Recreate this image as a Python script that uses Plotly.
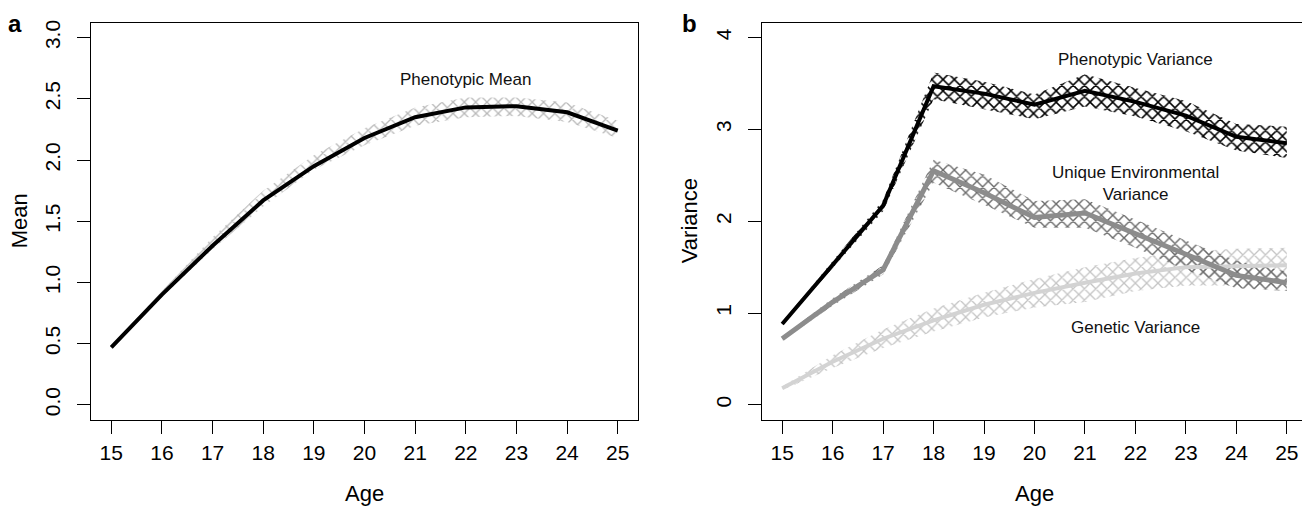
"""Phenotypic mean and variance components by age (two panels)."""
import plotly.graph_objects as go

ages = list(range(15, 26))

# panel a: phenotypic mean with interval
mean_est = [0.47, 0.90, 1.30, 1.67, 1.95, 2.18, 2.35, 2.43, 2.44, 2.39, 2.24]
mean_lo = [0.46, 0.88, 1.27, 1.62, 1.92, 2.12, 2.28, 2.35, 2.36, 2.31, 2.18]
mean_hi = [0.48, 0.93, 1.37, 1.75, 2.04, 2.26, 2.43, 2.51, 2.51, 2.47, 2.32]

# panel b: variance components with intervals
phen_var = [0.88, 1.53, 2.17, 3.47, 3.39, 3.27, 3.42, 3.30, 3.15, 2.92, 2.85]
phen_lo = [0.87, 1.49, 2.11, 3.33, 3.22, 3.11, 3.25, 3.14, 2.98, 2.77, 2.69]
phen_hi = [0.90, 1.57, 2.23, 3.62, 3.52, 3.38, 3.60, 3.45, 3.31, 3.06, 3.03]

ue_var = [0.72, 1.12, 1.47, 2.55, 2.31, 2.04, 2.09, 1.87, 1.64, 1.41, 1.33]
ue_lo = [0.70, 1.08, 1.42, 2.42, 2.18, 1.93, 1.93, 1.71, 1.47, 1.27, 1.24]
ue_hi = [0.74, 1.16, 1.52, 2.67, 2.51, 2.22, 2.24, 2.02, 1.79, 1.57, 1.45]

gen_var = [0.18, 0.47, 0.72, 0.92, 1.09, 1.22, 1.33, 1.43, 1.50, 1.51, 1.52]
gen_lo = [0.16, 0.40, 0.62, 0.80, 0.95, 1.06, 1.12, 1.24, 1.30, 1.30, 1.30]
gen_hi = [0.20, 0.54, 0.82, 1.05, 1.22, 1.37, 1.50, 1.60, 1.67, 1.70, 1.71]

mean_ticks = [0, 0.5, 1.0, 1.5, 2.0, 2.5, 3.0]
var_ticks = [0, 1, 2, 3, 4]

FONT = "Liberation Sans, Arial, sans-serif"
# the page puts the plot 8px in from the corner, so work in a shifted frame
OFF = 8
W, H = 1310 - OFF, 506 - OFF


def px_x(v):
    return (v - OFF) / W


def px_y(v):
    return (H - (v - OFF)) / H


def band(lo, hi, color, solidity, xa, ya):
    return go.Scatter(
        x=ages + ages[::-1], y=hi + lo[::-1], xaxis=xa, yaxis=ya,
        mode="lines", fill="toself", line=dict(width=0, color="rgba(0,0,0,0)"),
        fillcolor=color,
        fillpattern=dict(shape="x", fgcolor=color, fgopacity=1,
                         bgcolor="rgba(0,0,0,0)", size=8, solidity=solidity),
        hoverinfo="skip", showlegend=False,
    )


def line(y, color, width, xa, ya):
    return go.Scatter(x=ages, y=y, xaxis=xa, yaxis=ya, mode="lines",
                      line=dict(color=color, width=width), showlegend=False)


fig = go.Figure()
fig.add_trace(band(mean_lo, mean_hi, "#b8b8b8", 0.3, "x", "y"))
fig.add_trace(line(mean_est, "black", 4, "x", "y"))

fig.add_trace(band(gen_lo, gen_hi, "#c4c4c4", 0.3, "x2", "y2"))
fig.add_trace(band(ue_lo, ue_hi, "#6a6a6a", 0.32, "x2", "y2"))
fig.add_trace(band(phen_lo, phen_hi, "black", 0.34, "x2", "y2"))
fig.add_trace(line(gen_var, "#d3d3d3", 4, "x2", "y2"))
fig.add_trace(line(ue_var, "#8c8c8c", 5, "x2", "y2"))
fig.add_trace(line(phen_var, "black", 4, "x2", "y2"))

axis_common = dict(showline=True, mirror=True, linecolor="black", linewidth=1,
                   showgrid=False, zeroline=False, ticks="outside", ticklen=13,
                   tickcolor="black", tickfont=dict(size=21, color="black", family=FONT))
y_dom = [px_y(419), px_y(20)]

fig.update_layout(
    width=W, height=H, autosize=False,
    margin=dict(l=0, r=0, t=0, b=0),
    paper_bgcolor="white", plot_bgcolor="white",
    font=dict(family=FONT, color="black"),
    xaxis=dict(domain=[px_x(91), px_x(638)], range=[14.6, 25.4], tickvals=ages,
               ticklabelstandoff=1, **axis_common),
    yaxis=dict(domain=y_dom, range=[-0.12, 3.12], tickvals=mean_ticks,
               ticktext=[f"{v:.1f}" for v in mean_ticks], tickangle=-90,
               ticklabelstandoff=9, **axis_common),
    xaxis2=dict(domain=[px_x(762), px_x(1307)], range=[14.6, 25.4], tickvals=ages,
                anchor="y2", ticklabelstandoff=1, **axis_common),
    yaxis2=dict(domain=y_dom, range=[-0.16, 4.16], tickvals=var_ticks,
                tickangle=-90, anchor="x2", ticklabelstandoff=9, **axis_common),
)

ann = [
    dict(text="<b>a</b>", x=15, y=21, size=24, angle=0),
    dict(text="<b>b</b>", x=689, y=21, size=24, angle=0),
    dict(text="Age", x=364.5, y=493, size=22, angle=0),
    dict(text="Age", x=1034.5, y=493, size=22, angle=0),
    dict(text="Mean", x=19, y=219.5, size=22, angle=-90),
    dict(text="Variance", x=689, y=219.5, size=22, angle=-90),
]
for a in ann:
    fig.add_annotation(text=a["text"], x=px_x(a["x"]), y=px_y(a["y"]), xref="paper",
                       yref="paper", showarrow=False, textangle=a["angle"],
                       xanchor="center", yanchor="middle",
                       font=dict(size=a["size"], color="black", family=FONT))

labels = [
    ("Phenotypic Mean", 22, 2.66, "x", "y"),
    ("Phenotypic Variance", 22, 3.76, "x2", "y2"),
    ("Unique Environmental<br>Variance", 22, 2.41, "x2", "y2"),
    ("Genetic Variance", 22, 0.84, "x2", "y2"),
]
for text, x, y, xa, ya in labels:
    fig.add_annotation(text=text, x=x, y=y, xref=xa, yref=ya, showarrow=False,
                       xanchor="center", yanchor="middle",
                       font=dict(size=17, color="#111", family=FONT))

fig.write_html("out.html")
